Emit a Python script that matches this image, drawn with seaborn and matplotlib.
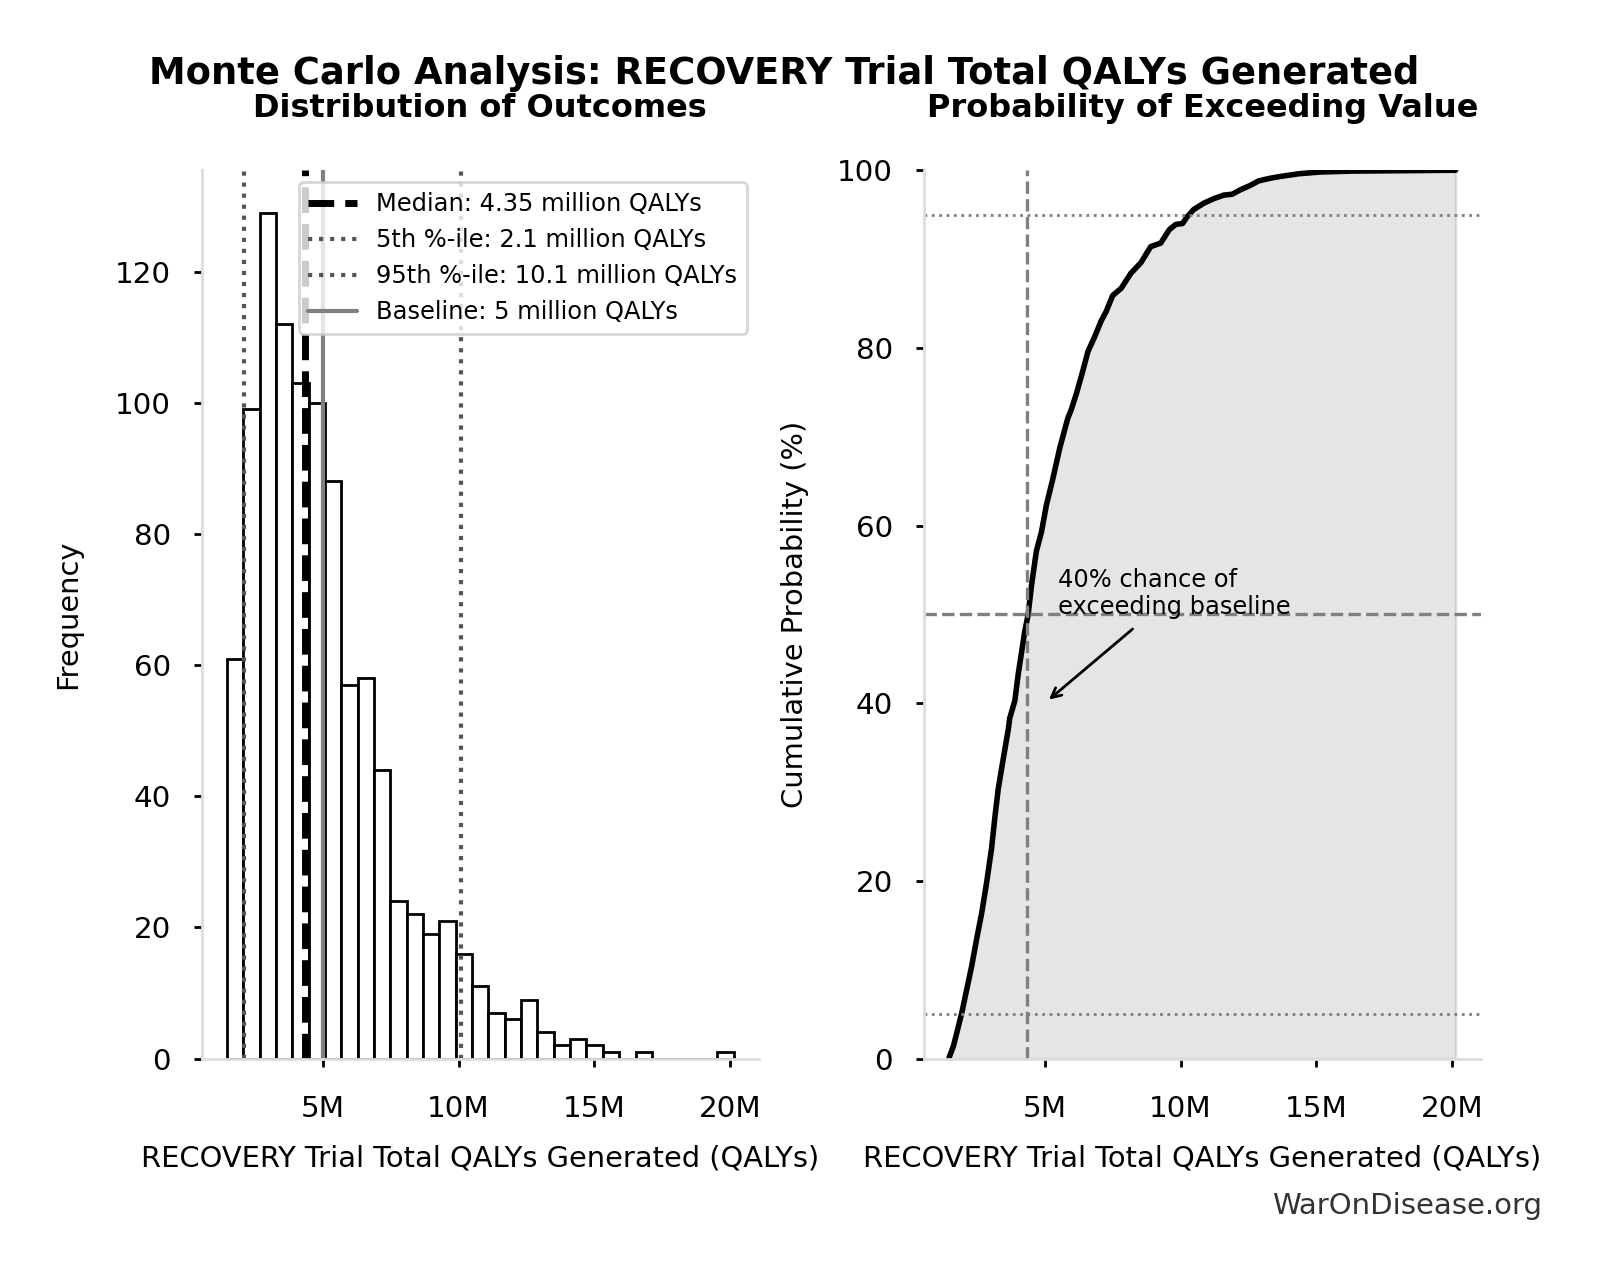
import numpy as np
import pandas as pd
import matplotlib
matplotlib.use("Agg")
import matplotlib.pyplot as plt
from matplotlib.ticker import FuncFormatter
import seaborn as sns

# Histogram of simulated QALYs (1000 runs), bins
bin_lo = 1.48e6
bin_hi = 20.12e6
hist_counts = [61, 99, 129, 112, 103, 100, 88, 57, 58, 44,
               24, 22, 19, 21, 16, 11, 7, 6, 9, 4,
               2, 3, 2, 1, 0, 1, 0, 0, 0, 0, 1]

# Summary stats (millions of QALYs)
median_m = 4.35
p5_m = 2.1
p95_m = 10.1
baseline_m = 5

cdf_x_m = [1.48, 1.52, 1.64, 1.82, 1.95, 2.13, 2.31, 2.49, 2.68, 2.86,
           3.04, 3.17, 3.29, 3.47, 3.66, 3.71, 3.90, 4.02, 4.26, 4.39,
           4.51, 4.69, 4.88, 5.06, 5.30, 5.55, 5.85, 5.97, 6.16, 6.40,
           6.59, 6.83, 7.07, 7.26, 7.50, 7.81, 8.17, 8.54, 8.90, 9.27,
           9.58, 9.82, 10.07, 10.25, 10.49, 10.86, 11.22, 11.59, 11.90, 12.20,
           12.57, 12.87, 13.30, 13.67, 14.34, 15.13, 16.23, 20.12]
cdf_pct = [0.1, 0.45, 1.4, 3.6, 5.2, 7.8, 10.4, 13.4, 16.4, 19.8,
           23.6, 27.3, 30.4, 33.7, 37.1, 38.3, 40.3, 43.2, 48.0, 50.0,
           53.2, 57.1, 59.3, 62.3, 65.3, 68.7, 72.1, 73.0, 74.8, 77.4,
           79.6, 81.2, 83.0, 84.1, 85.9, 86.7, 88.4, 89.6, 91.4, 91.8,
           93.3, 93.9, 94.0, 94.8, 95.6, 96.3, 96.8, 97.2, 97.3, 97.8,
           98.3, 98.8, 99.1, 99.3, 99.6, 99.8, 99.9, 100.0]

label = "RECOVERY Trial Total QALYs Generated"

nbins = len(hist_counts)
edges = np.linspace(bin_lo, bin_hi, nbins + 1)
centers = (edges[:-1] + edges[1:]) / 2
hist_df = pd.DataFrame({"qalys": centers, "count": hist_counts})
cdf_df = pd.DataFrame({"qalys": np.array(cdf_x_m) * 1e6, "pct": cdf_pct})

sns.set_style("ticks")
plt.rcParams["font.family"] = ["DejaVu Sans"]
plt.rcParams.update({"text.color": "black", "axes.labelcolor": "black",
                     "xtick.color": "black", "ytick.color": "black"})

fig, (ax1, ax2) = plt.subplots(1, 2, figsize=(8.005, 6.4), dpi=200)
fig.subplots_adjust(left=0.126, right=0.925, top=0.867, bottom=0.173, wspace=0.296)

fmt = FuncFormatter(lambda v, _: f"{v / 1e6:.0f}M")

# --- left: histogram
sns.histplot(data=hist_df, x="qalys", weights="count", bins=nbins,
             binrange=(bin_lo, bin_hi), ax=ax1,
             color="white", edgecolor="black", linewidth=1.0, alpha=1.0)
ax1.axvline(median_m * 1e6, color="black", ls="--", lw=2.5,
            label=f"Median: {median_m} million QALYs")
ax1.axvline(p5_m * 1e6, color="#555555", ls=":", lw=1.5,
            label=f"5th %-ile: {p5_m} million QALYs")
ax1.axvline(p95_m * 1e6, color="#555555", ls=":", lw=1.5,
            label=f"95th %-ile: {p95_m} million QALYs")
ax1.axvline(baseline_m * 1e6, color="gray", ls="-", lw=1.5,
            label=f"Baseline: {baseline_m} million QALYs")
ax1.set_title("Distribution of Outcomes", fontsize=11.5, fontweight="bold", pad=19)
ax1.set_xlabel(f"{label} (QALYs)", fontsize=10.4, labelpad=8)
ax1.set_ylabel("Frequency", fontsize=10.4, labelpad=12)
ax1.legend(loc="upper right", fontsize=8.7)

# --- right: cumulative probability
ax2.fill_between(cdf_df["qalys"], cdf_df["pct"], alpha=0.2, color="gray")
sns.lineplot(data=cdf_df, x="qalys", y="pct", ax=ax2, color="black", lw=2)
ax2.axvline(median_m * 1e6, color="gray", ls="--", lw=1.2)
ax2.axhline(50, color="gray", ls="--", lw=1.2)
ax2.axhline(5, color="gray", ls=":", lw=1)
ax2.axhline(95, color="gray", ls=":", lw=1)
ax2.annotate("40% chance of\nexceeding baseline", xy=(baseline_m * 1e6, 40),
             xytext=(5.5e6, 50), fontsize=8.7,
             arrowprops=dict(arrowstyle="->", color="black", lw=1))
ax2.set_xlim(ax1.get_xlim())
ax2.set_ylim(0, 100)
ax2.set_title("Probability of Exceeding Value", fontsize=11.5, fontweight="bold", pad=19)
ax2.set_xlabel(f"{label} (QALYs)", fontsize=10.4, labelpad=8)
ax2.set_ylabel("Cumulative Probability (%)", fontsize=10.4, labelpad=10)

for ax in (ax1, ax2):
    ax.xaxis.set_major_formatter(fmt)
    sns.despine(ax=ax)
    for s in ("left", "bottom"):
        ax.spines[s].set_color("#dddddd")
        ax.spines[s].set_linewidth(1)
    ax.tick_params(axis="both", labelsize=10.6, length=3, width=1, color="black")
    ax.tick_params(axis="x", pad=10)
    ax.tick_params(axis="y", pad=8)

fig.suptitle(f"Monte Carlo Analysis: {label}", fontsize=13.3, fontweight="bold",
             x=0.49, y=0.957)
fig.text(0.963, 0.058, "WarOnDisease.org", ha="right", va="center",
         fontsize=10.5, color="#333333")

fig.savefig("out.png", dpi=200)
